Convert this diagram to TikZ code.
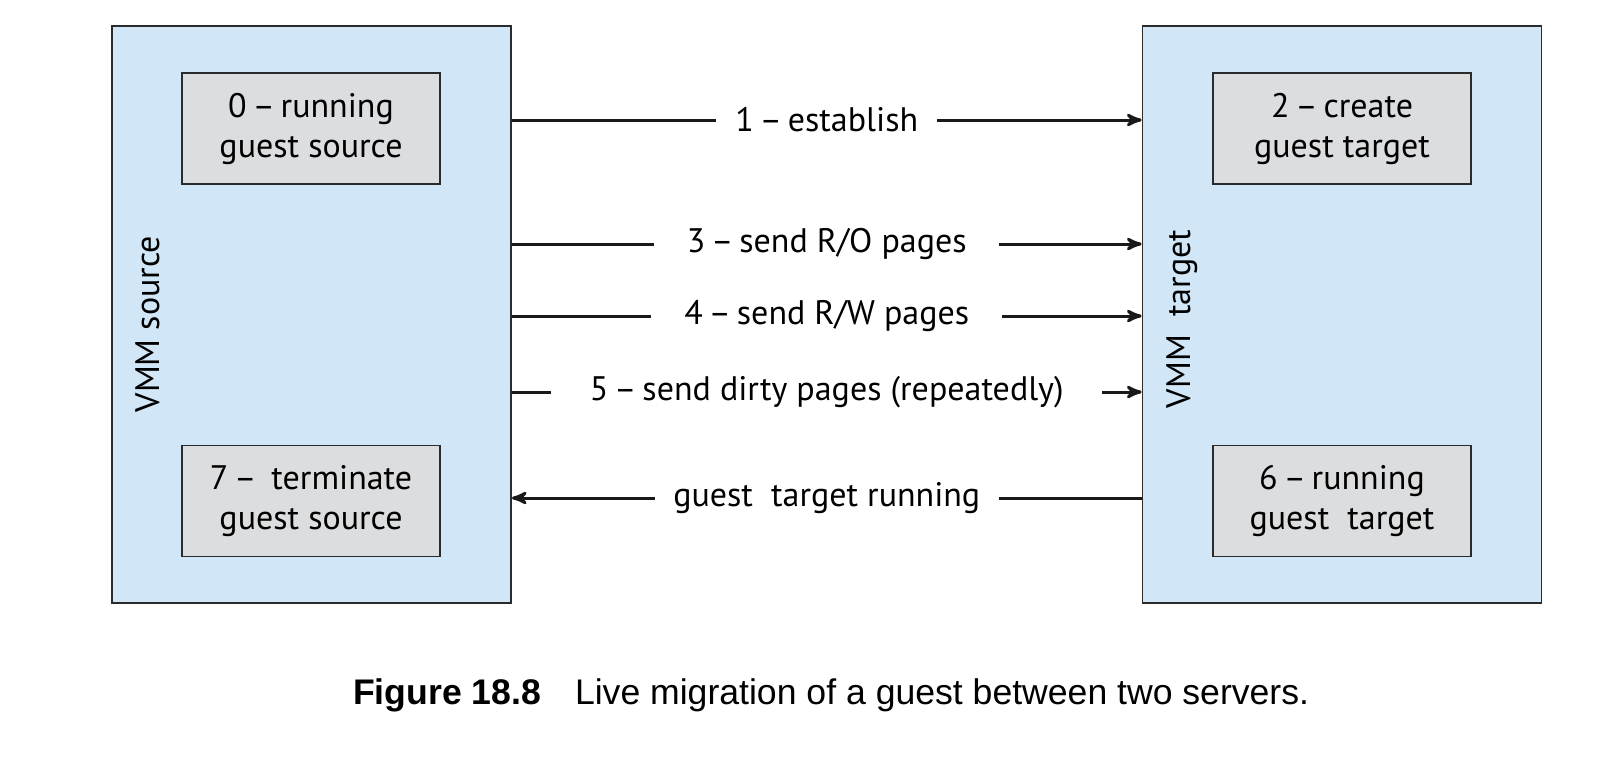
\documentclass[tikz,border=0pt]{standalone}
\usepackage{fontspec}
\setmainfont{PT Sans}
\newfontfamily\capfont{Liberation Sans}
\usepackage{tikz}
\usetikzlibrary{arrows}
\definecolor{vmmblue}{HTML}{D1E7F7}
\definecolor{guestgray}{HTML}{DCDDDF}
\definecolor{edgegray}{HTML}{2B2B2B}
\newcommand{\stepdash}{\hspace{0.17em}--\hspace{0.17em}}

\begin{document}
\begin{tikzpicture}[x=0.5pt,y=-0.5pt,>=stealth',font=\fontsize{17}{20}\selectfont]
  \tikzstyle{vmm}=[rectangle,draw=edgegray,line width=0.9pt,fill=vmmblue,
  			  minimum width=199.5pt,minimum height=288.5pt]
  \tikzstyle{guest}=[rectangle,draw=edgegray,line width=0.8pt,fill=guestgray,
  			  minimum width=129pt,minimum height=55.5pt,align=center,inner sep=0pt]
  \tikzstyle{msg}=[line width=1.5pt,draw=black!90]
  \tikzstyle{gap}=[midway,fill=white,inner sep=0pt,minimum height=18pt]
  \useasboundingbox (0,0) rectangle (1598,772);
  % the two hosts
  \node [vmm] (vs) at (311.5,314.5) {};
  \node [vmm] (vt) at (1342,314.5) {};
  \node [rotate=90] (ls) at (148,324) {VMM source};
  \node [rotate=90] (lt) at (1182,319) {VMM\ \ target};
  % guests
  \node [guest] (g0) at (311,128.5) {0\stepdash running\\guest source};
  \node [guest] (g7) at (311,501) {7\stepdash\ terminate\\guest source};
  \node [guest] (g2) at (1342,128.5) {2\stepdash create\\guest target};
  \node [guest] (g6) at (1342,501) {6\stepdash running\\guest\ \ target};
  % messages
  \draw [msg,->] (vs.east |- 0,120) -- (vt.west |- 0,120)
    node [gap,minimum width=110.5pt] {1\stepdash establish};
  \draw [msg,->] (vs.east |- 0,244) -- (vt.west |- 0,244)
    node [gap,minimum width=172.5pt] {3\stepdash send R/O pages};
  \draw [msg,->] (vs.east |- 0,316) -- (vt.west |- 0,316)
    node [gap,minimum width=175.5pt] {4\stepdash send R/W pages};
  \draw [msg,->] (vs.east |- 0,392) -- (vt.west |- 0,392)
    node [gap,minimum width=275.5pt] {5\stepdash send dirty pages (repeatedly)};
  \draw [msg,<-] (vs.east |- 0,498) -- (vt.west |- 0,498)
    node [gap,minimum width=172pt] {guest\ \ target running};
  % caption
  \node [anchor=west,font=\capfont\fontsize{17.8}{20}\selectfont] (cap) at (346,695)
    {\textbf{Figure 18.8}\hspace{17pt}Live migration of a guest between two servers.};
\end{tikzpicture}
\end{document}
